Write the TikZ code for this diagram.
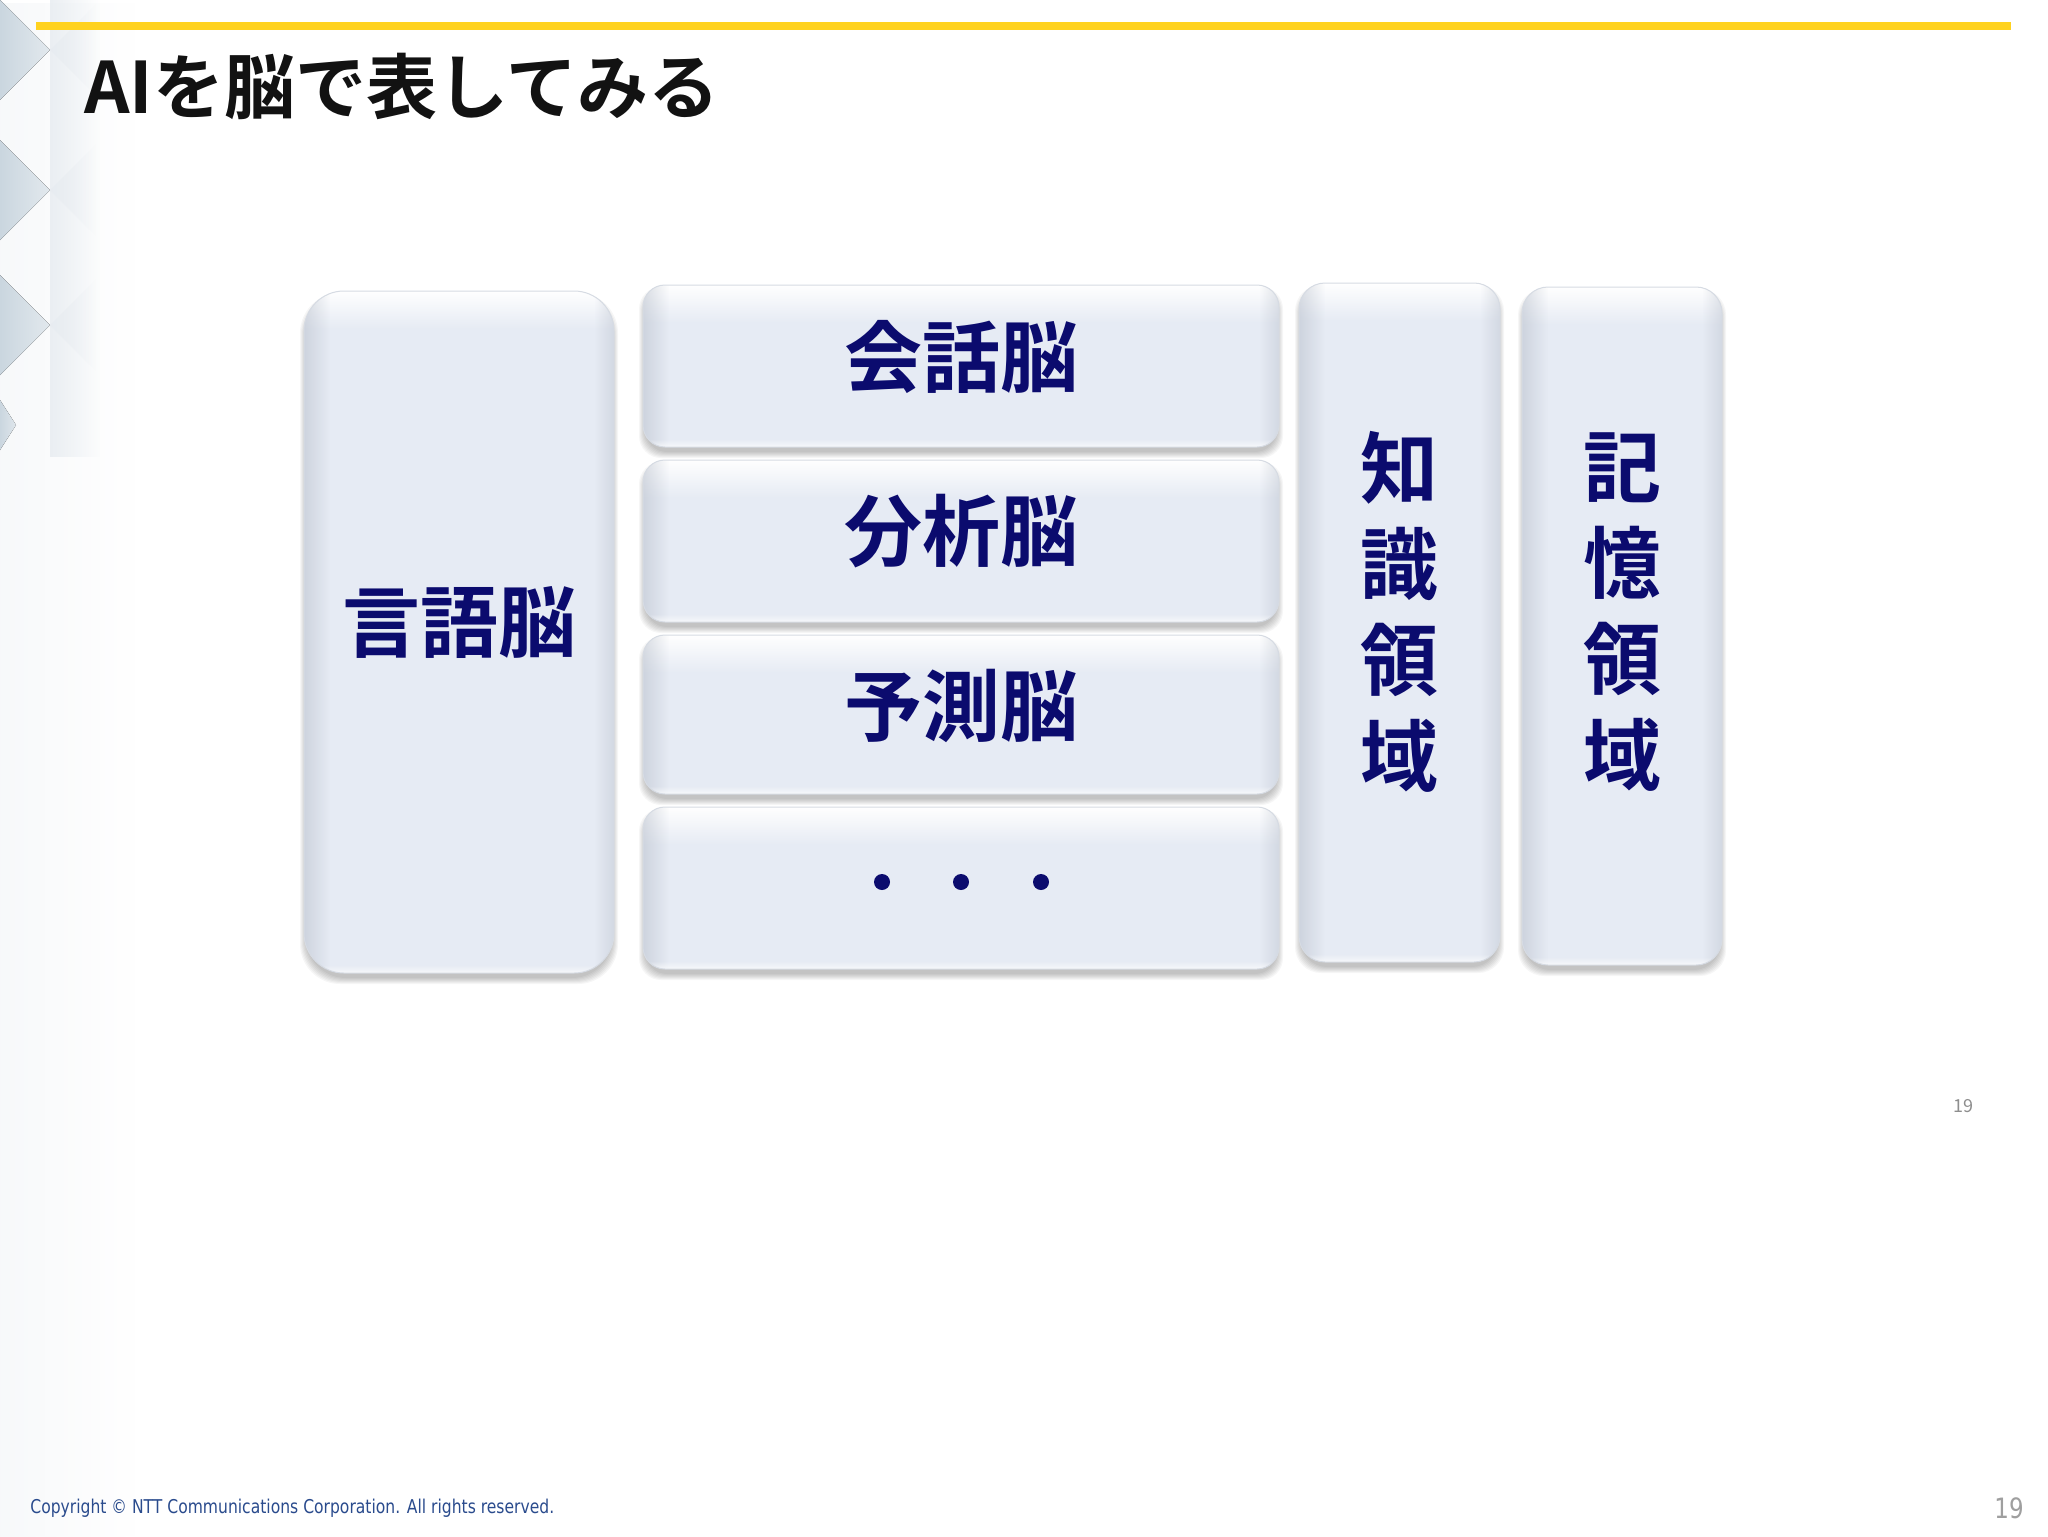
\documentclass[tikz,border=0pt]{standalone}
\usepackage{fontspec}
\setmainfont{Noto Sans CJK JP}[BoldFont={Noto Sans CJK JP Bold}]
\newfontfamily\footfont[FakeStretch=0.82]{DejaVu Sans}
\usetikzlibrary{fadings,calc}
\definecolor{navy}{HTML}{0B0B6E}
\definecolor{boxfill}{HTML}{E6EBF4}
\definecolor{edgegray}{HTML}{B6BDC9}
\definecolor{rimgray}{HTML}{D6DBE3}
\definecolor{yellowline}{HTML}{FFD21F}
\definecolor{decodark}{HTML}{CAD6DF}
\definecolor{decolight}{HTML}{E6EBF0}
\definecolor{copyblue}{HTML}{2A4B8D}
\definecolor{pagegray}{HTML}{8E8E8E}

\newcommand{\brainbox}[5]{%
  \foreach \k in {0,...,6}{
    \fill[black, opacity=0.035, rounded corners=#5]
      ({#1-\k+2},{#2+8-\k}) rectangle ({#3+\k-2},{#4+5+\k});
  }
  \begin{scope}
    \clip[rounded corners=#5] (#1,#2) rectangle (#3,#4);
    \fill[boxfill] (#1,#2) rectangle (#3,#4);
    \fill[white, path fading=south] (#1,#2) rectangle (#3,{#2+38});
    \fill[edgegray, opacity=0.5, path fading=east] (#1,#2) rectangle ({#1+26},#4);
    \fill[edgegray, opacity=0.4, path fading=west] ({#3-20},#2) rectangle (#3,#4);
    \fill[white, opacity=0.7, path fading=north] (#1,{#4-8}) rectangle (#3,#4);
  \end{scope}
  \draw[rimgray, line width=0.5pt, rounded corners=#5] (#1,#2) rectangle (#3,#4);
}

\tikzset{
  label/.style={text=navy, font=\fontsize{39}{48}\selectfont\bfseries, inner sep=0pt, align=center},
  dotnode/.style={circle, fill=navy, minimum size=8pt, inner sep=0pt}
}

\begin{document}
\begin{tikzpicture}[x=0.5pt,y=-0.5pt]
\useasboundingbox (0,0) rectangle (2048,1536);
\fill[white] (0,0) rectangle (2048,1536);

% faint left band
\fill[decolight, opacity=0.3, path fading=east] (0,0) rectangle (135,1536);

% left decoration
\fill[decolight, opacity=0.8, path fading=east] (50,0) rectangle (100,457);
\foreach \c in {50,190,325}{
  \fill[left color=decodark, right color=decodark!55!white] (0,{\c-50}) -- (50,\c) -- (0,{\c+50}) -- cycle;
  \fill[decolight, opacity=0.7, path fading=east] (50,\c) -- (96,{\c-46}) -- (96,{\c+46}) -- cycle;
}
\fill[left color=decodark, right color=decodark!60!white] (0,400) -- (16,425) -- (0,450) -- cycle;

% yellow rule
\fill[yellowline] (36,22) rectangle (2011,30);

% title
\node[anchor=west, inner sep=0pt, font=\fontsize{35.5}{40}\selectfont\bfseries, text=black!93]
  (title) at (84,86) {AIを脳で表してみる};

% boxes
\brainbox{304}{291}{614}{973}{20pt}
\brainbox{643}{285}{1279}{447}{11pt}
\brainbox{643}{460}{1279}{622}{11pt}
\brainbox{643}{635}{1279}{794}{11pt}
\brainbox{643}{807}{1279}{969}{11pt}
\brainbox{1299}{283}{1500}{962}{13pt}
\brainbox{1522}{287}{1722}{965}{13pt}

% labels
\node[label] (lang) at (459,622) {言語脳};
\node[label] (conv) at (961,357) {会話脳};
\node[label] (anal) at (961,531) {分析脳};
\node[label] (pred) at (961,706) {予測脳};
\node[dotnode] (d1) at (882,882) {};
\node[dotnode] (d2) at (961,882) {};
\node[dotnode] (d3) at (1041,882) {};
\node[label] (know) at (1399,612) {知\\識\\領\\域};
\node[label] (mem) at (1622,612) {記\\憶\\領\\域};

% footer
\node[anchor=center, inner sep=0pt, text=pagegray, font=\fontsize{9}{10}\selectfont] (pg1) at (1963,1106) {19};
\node[anchor=west, inner sep=0pt, text=copyblue, font=\footfont\fontsize{9.5}{10}\selectfont]
  (copy) at (30,1508) {Copyright © NTT Communications Corporation. All rights reserved.};
\node[anchor=east, inner sep=0pt, text=pagegray!85, font=\footfont\fontsize{14}{16}\selectfont] (pg2) at (2024,1508) {19};
\end{tikzpicture}
\end{document}
